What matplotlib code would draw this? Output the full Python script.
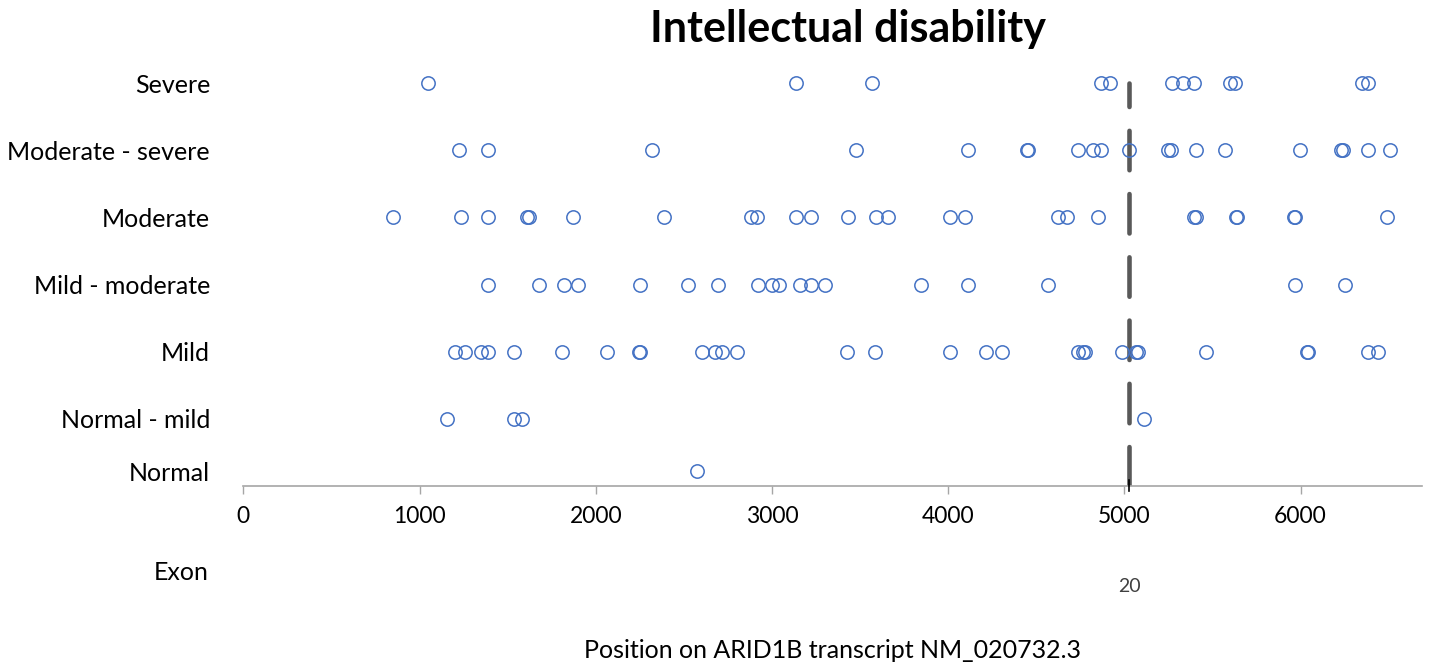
import matplotlib
matplotlib.use("Agg")
import matplotlib.pyplot as plt
from matplotlib.transforms import blended_transform_factory

plt.rcParams['font.family'] = ['Lato', 'DejaVu Sans']

# severity rows, top to bottom, and their vertical level
categories = ['Severe', 'Moderate - severe', 'Moderate', 'Mild - moderate',
              'Mild', 'Normal - mild', 'Normal']
levels = [7, 6, 5, 4, 3, 2, 1.22]

# variant positions on the transcript
severe = [1045, 3138, 3570, 4868, 4917, 5268, 5330, 5394, 5599, 5628, 6350, 6385]
moderate_severe = [1223, 1390, 2320, 3474, 4110, 4445, 4455, 4739, 4819, 4868,
                   5028, 5250, 5262, 5406, 5572, 5997, 6230, 6238, 6384, 6510]
moderate = [849, 1234, 1390, 1612, 1622, 1872, 2385, 2878, 2917, 3136, 3223,
            3432, 3590, 3659, 4010, 4097, 4624, 4677, 4848, 5393, 5405,
            5633, 5641, 5965, 5971, 6490]
mild_moderate = [1390, 1679, 1822, 1898, 2248, 2522, 2691, 2921, 2999, 3041,
                 3160, 3223, 3300, 3846, 4110, 4568, 5970, 6252]
mild = [1201, 1260, 1347, 1390, 1538, 1809, 2064, 2244, 2252, 2600, 2678, 2715,
        2804, 3428, 3586, 4010, 4217, 4304, 4739, 4766, 4775, 4984, 5068, 5075,
        5461, 6035, 6043, 6384, 6441]
normal_mild = [1158, 1533, 1579, 5110]
normal = [2572]

exon20_start = 5028
exon_label = '20'

rows = [severe, moderate_severe, moderate, mild_moderate, mild, normal_mild, normal]

fig = plt.figure(figsize=(14.34, 6.64), dpi=100)
ax = fig.add_axes([0.16974, 0.2681, 0.82189, 0.6574])

# exon boundary, dashed from the axis up to the top row
ax.plot([exon20_start, exon20_start], [1, 7], color='#595959', lw=3.3,
        linestyle=(0, (8.6, 5.2)), solid_capstyle='round',
        dash_capstyle='round', zorder=2)
ax.plot([exon20_start, exon20_start], [1.09, 0.925], color='black', lw=1.2,
        clip_on=False, zorder=3)

for xs, lev in zip(rows, levels):
    ax.plot(xs, [lev] * len(xs), linestyle='none', marker='o', markersize=9.6,
            markerfacecolor='none', markeredgecolor='#4472C4',
            markeredgewidth=1.1, zorder=4)

ax.set_xlim(0, 6689)
ax.set_ylim(1, 7.5)
ax.set_xticks([0, 1000, 2000, 3000, 4000, 5000, 6000])
ax.set_yticks(levels, categories)

for side in ['left', 'top', 'right']:
    ax.spines[side].set_visible(False)
ax.spines['bottom'].set_color('#a6a6a6')
ax.spines['bottom'].set_linewidth(1.2)
ax.tick_params(axis='x', direction='out', length=5.5, width=1.0,
               color='#a6a6a6', labelsize=16.5, pad=9)
ax.tick_params(axis='y', length=0, labelsize=18, pad=24)

ax.set_xlabel('Position on ARID1B transcript NM_020732.3', fontsize=18)
ax.xaxis.set_label_coords(0.5, -0.35)

fig.text(0.5914, 0.957, 'Intellectual disability', fontsize=31,
         fontweight='bold', ha='center', va='center')
fig.text(209 / 1434, 1 - 573 / 664, 'Exon', fontsize=18, ha='right', va='center')
trans = blended_transform_factory(ax.transData, fig.transFigure)
ax.text(exon20_start, 1 - 586 / 664, exon_label, transform=trans, fontsize=14,
        color='#404040', ha='center', va='center')

fig.savefig('out.png', dpi=100)
